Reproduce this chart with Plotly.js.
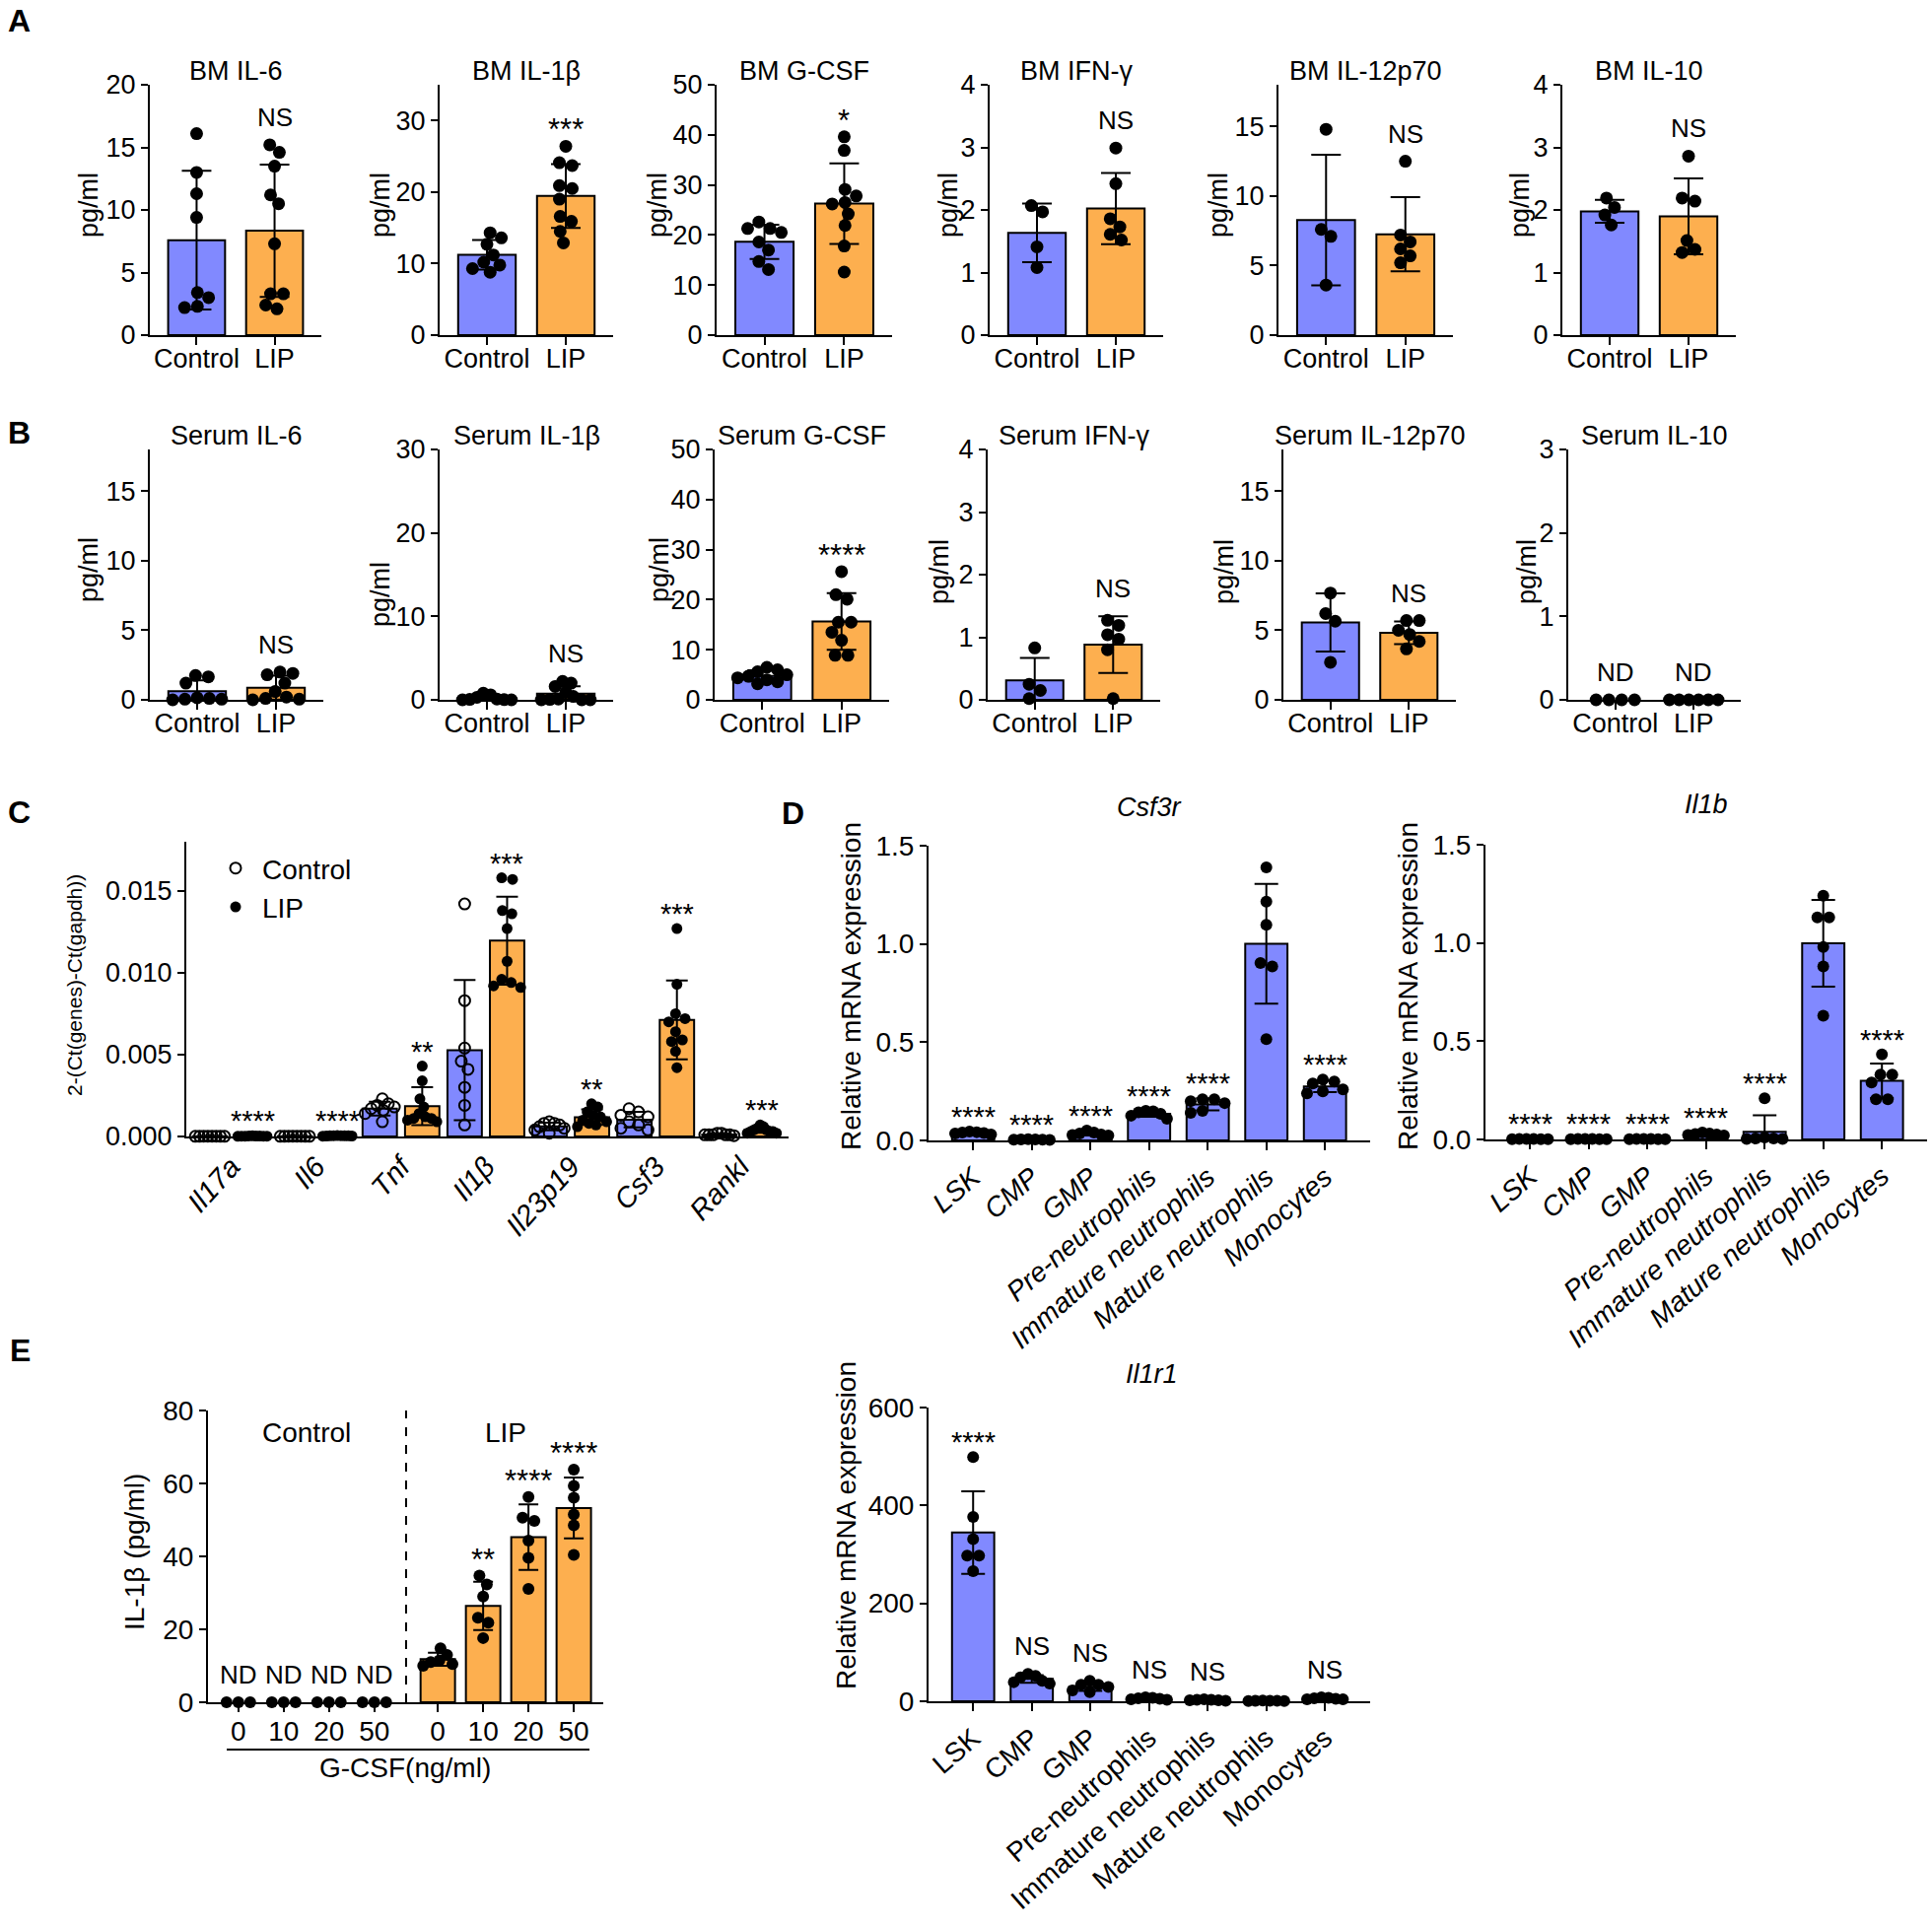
<!DOCTYPE html>
<html>
<head>
<meta charset="utf-8">
<script src="https://cdn.plot.ly/plotly-3.0.1.min.js"></script>
<style>html,body{margin:0;padding:0;background:#fff;}</style>
</head>
<body>
<div id="chart" style="width:1960px;height:1954px;"></div>
<script>
// ===================== DATA =====================
const groupLabels = ['Control', 'LIP'];

// ---- Panel A (bone marrow, pg/ml) ----
const titlesA = ['BM IL-6', 'BM IL-1β', 'BM G-CSF', 'BM IFN-γ', 'BM IL-12p70', 'BM IL-10'];
const bmIl6Control = [16.1, 13.0, 11.3, 9.4, 3.4, 3.0, 2.3, 2.2];
const bmIl6Lip = [15.2, 14.6, 13.5, 11.2, 10.5, 7.3, 3.3, 3.3, 2.4, 2.1];
const bmIl1bControl = [14.3, 13.6, 12.7, 11.2, 10.2, 9.8, 9.3, 8.8];
const bmIl1bLip = [26.4, 24.1, 23.7, 20.9, 20.5, 19.0, 16.6, 15.9, 14.5, 12.9];
const bmGcsfControl = [22.6, 21.3, 21.3, 20.5, 18.6, 17.0, 14.7, 13.1];
const bmGcsfLip = [39.6, 36.9, 29.1, 27.8, 26.5, 26.2, 24.2, 21.9, 17.8, 12.6];
const bmIfngControl = [2.07, 1.97, 1.41, 1.08];
const bmIfngLip = [2.99, 2.42, 1.86, 1.73, 1.61, 1.52];
const bmIl12Control = [14.8, 7.6, 7.1, 3.6];
const bmIl12Lip = [12.5, 7.2, 6.7, 6.2, 5.7, 5.2];
const bmIl10Control = [2.19, 2.04, 1.92, 1.76];
const bmIl10Lip = [2.86, 2.19, 2.14, 1.51, 1.37, 1.32];
const sigAControl = ['', '', '', '', '', ''];
const sigALip = ['NS', '***', '*', 'NS', 'NS', 'NS'];

// ---- Panel B (serum, pg/ml) ----
const titlesB = ['Serum IL-6', 'Serum IL-1β', 'Serum G-CSF', 'Serum IFN-γ', 'Serum IL-12p70', 'Serum IL-10'];
const seIl6Control = [1.75, 1.65, 1.2, 0.15, 0.1, 0.05, 0.05, 0.0];
const seIl6Lip = [2.0, 1.9, 1.8, 1.2, 0.6, 0.2, 0.1, 0.05, 0.0];
const seIl1bControl = [0.8, 0.6, 0.3, 0.1, 0.05, 0.02, 0.0, 0.0];
const seIl1bLip = [2.2, 2.0, 1.6, 0.9, 0.4, 0.1, 0.05, 0.0, 0.0, 0.0];
const seGcsfControl = [6.5, 6.0, 5.6, 5.0, 4.7, 4.4, 4.0, 3.6, 3.2];
const seGcsfLip = [25.6, 21.0, 20.1, 15.5, 15.5, 13.5, 11.9, 8.9, 8.9];
const seIfngControl = [0.83, 0.25, 0.15, 0.02];
const seIfngLip = [1.27, 1.19, 1.04, 0.97, 0.80, 0.02];
const seIl12Control = [7.68, 6.2, 5.65, 2.7];
const seIl12Lip = [5.7, 5.7, 5.0, 4.7, 4.2, 3.66];
const seIl10Control = [0, 0, 0, 0];
const seIl10Lip = [0, 0, 0, 0, 0, 0];
const sigBControl = ['', '', '', '', '', 'ND'];
const sigBLip = ['NS', 'NS', '****', 'NS', 'NS', 'ND'];

// ---- Panel C (2^-(Ct(gene)-Ct(gapdh))) ----
const genesC = ['Il17a', 'Il6', 'Tnf', 'Il1β', 'Il23p19', 'Csf3', 'Rankl'];
const cControlValues = [
  [0.00002, 0.00001, 0.00002, 0.00001, 0.00002, 0.00001, 0.00002, 0.00001],
  [0.00002, 0.00001, 0.00002, 0.00001, 0.00002, 0.00001, 0.00002, 0.00001],
  [0.0023, 0.0020, 0.0019, 0.0018, 0.0017, 0.0016, 0.0014, 0.0009],
  [0.0142, 0.0083, 0.0054, 0.0046, 0.0041, 0.0030, 0.0019, 0.0007],
  [0.0009, 0.0008, 0.0008, 0.0007, 0.0006, 0.0005, 0.0004, 0.0002],
  [0.0017, 0.0015, 0.0013, 0.0012, 0.0009, 0.0007, 0.0005, 0.0004],
  [0.0002, 0.0002, 0.0001, 0.0001, 0.0001, 0.0001, 0.0001, 0.00005]
];
const cLipValues = [
  [0.00004, 0.00003, 0.00003, 0.00003, 0.00002, 0.00002, 0.00002, 0.00002, 0.00001],
  [0.00006, 0.00005, 0.00005, 0.00004, 0.00004, 0.00004, 0.00003, 0.00003, 0.00002],
  [0.0043, 0.0034, 0.0023, 0.0018, 0.0014, 0.0012, 0.0011, 0.0011, 0.0010, 0.0009],
  [0.0158, 0.0157, 0.0138, 0.0136, 0.0127, 0.0107, 0.0096, 0.0094, 0.0092, 0.0091],
  [0.0020, 0.0018, 0.0015, 0.0013, 0.0012, 0.0010, 0.0009, 0.0008, 0.0007, 0.0006],
  [0.0127, 0.0093, 0.0075, 0.0072, 0.0070, 0.0064, 0.0059, 0.0058, 0.0052, 0.0042],
  [0.0007, 0.0006, 0.0005, 0.0004, 0.0004, 0.0003, 0.0003, 0.0003, 0.0002, 0.0002]
];
const sigC = ['****', '****', '**', '***', '**', '***', '***'];

// ---- Panel D (relative mRNA expression by cell type) ----
const cellTypes = ['LSK', 'CMP', 'GMP', 'Pre-neutrophils', 'Immature neutrophils', 'Mature neutrophils', 'Monocytes'];
const csf3rValues = [
  [0.045, 0.042, 0.040, 0.038, 0.035, 0.030],
  [0.006, 0.005, 0.005, 0.004, 0.004, 0.003],
  [0.050, 0.040, 0.035, 0.030, 0.028, 0.025],
  [0.150, 0.148, 0.143, 0.135, 0.126, 0.110],
  [0.210, 0.210, 0.200, 0.190, 0.150, 0.140],
  [1.390, 1.215, 1.097, 0.903, 0.886, 0.515],
  [0.310, 0.300, 0.290, 0.260, 0.250, 0.240]
];
const il1bValues = [
  [0.003, 0.002, 0.002, 0.001, 0.001, 0.001],
  [0.003, 0.002, 0.002, 0.001, 0.001, 0.001],
  [0.003, 0.002, 0.002, 0.001, 0.001, 0.001],
  [0.035, 0.030, 0.028, 0.025, 0.022, 0.020],
  [0.210, 0.010, 0.005, 0.005, 0.003, 0.002],
  [1.240, 1.130, 1.130, 0.980, 0.880, 0.630],
  [0.433, 0.330, 0.330, 0.290, 0.204, 0.204]
];
const il1r1Values = [
  [498.7, 376.5, 331.0, 297.7, 297.7, 266.0],
  [55.7, 52.0, 49.0, 42.0, 39.0, 36.0],
  [42.0, 33.6, 33.6, 29.0, 22.0, 18.8],
  [8, 7, 6, 5, 4, 3],
  [4, 3, 3, 2, 2, 1],
  [1.5, 1, 1, 0.8, 0.5, 0.5],
  [8, 7, 6, 5, 4, 4]
];
const csf3rSig = ['****', '****', '****', '****', '****', '', '****'];
const il1bSig = ['****', '****', '****', '****', '****', '', '****'];
const il1r1Sig = ['****', 'NS', 'NS', 'NS', 'NS', '', 'NS'];

// ---- Panel E (IL-1β pg/ml vs G-CSF dose) ----
const gcsfDoses = ['0', '10', '20', '50'];
const eControlValues = [[0, 0, 0], [0, 0, 0], [0, 0, 0], [0, 0, 0]];
const eLipValues = [
  [14.8, 13.0, 11.5, 11.0, 10.5, 10.0],
  [34.7, 32.3, 29.0, 23.2, 21.8, 17.6],
  [56.3, 50.6, 49.7, 44.3, 39.6, 31.1],
  [63.8, 59.3, 56.1, 51.5, 48.5, 40.4]
];
const sigEControl = ['ND', 'ND', 'ND', 'ND'];
const sigELip = ['', '**', '****', '****'];

// ===================== STYLE / LAYOUT =====================
const W = 1960, H = 1954;
const FONT = 'Liberation Sans, Arial, Helvetica, sans-serif';
const BLUE = '#8189FF', ORANGE = '#FDAF4F';

const traces = [], annotations = [], shapes = [];
const layout = {
  width: W, height: H, margin: {l: 0, r: 0, t: 0, b: 0},
  paper_bgcolor: '#ffffff', plot_bgcolor: 'rgba(0,0,0,0)',
  font: {family: FONT, color: '#000', size: 27},
  showlegend: true,
  legend: {x: 212 / W, y: 1 - 856 / H, xanchor: 'left', yanchor: 'top',
           font: {size: 28, family: FONT}, bgcolor: 'rgba(0,0,0,0)', borderwidth: 0,
           itemwidth: 44, tracegroupgap: 0},
  annotations, shapes
};

const mean = a => a.reduce((s, v) => s + v, 0) / a.length;
const sd = a => { const m = mean(a); return a.length < 2 ? 0 : Math.sqrt(a.reduce((s, v) => s + (v - m) * (v - m), 0) / (a.length - 1)); };

// beeswarm-style horizontal spreading of dots, returned in pixels
function swarm(vals, ppu, d, maxSpan) {
  const minD = d * 0.92;
  const order = vals.map((v, i) => i).sort((a, b) => vals[b] - vals[a]);
  const placed = [], off = new Array(vals.length).fill(0);
  for (const i of order) {
    const y = vals[i] * ppu;
    const near = placed.filter(p => Math.abs(p.y - y) < minD);
    const bal = near.reduce((s, p) => s + Math.sign(p.x), 0);
    let best = null;
    for (let k = 0; k < 400 && best === null; k++) {
      const c = k * d / 8;
      const cands = k === 0 ? [0] : (bal <= 0 ? [c, -c] : [-c, c]);
      for (const x of cands) {
        if (near.every(p => Math.hypot(p.x - x, p.y - y) >= minD)) { best = x; break; }
      }
    }
    placed.push({x: best, y}); off[i] = best;
  }
  // centre & fit each vertically connected cluster
  let cluster = [];
  const flush = () => {
    if (!cluster.length) return;
    const xs = cluster.map(i => off[i]);
    const ctr = (Math.min(...xs) + Math.max(...xs)) / 2;
    cluster.forEach(i => off[i] -= ctr);
    const half = Math.max(...cluster.map(i => Math.abs(off[i])));
    if (half > maxSpan / 2) cluster.forEach(i => off[i] *= (maxSpan / 2) / half);
    cluster = [];
  };
  order.forEach((i, k) => {
    if (k > 0 && (vals[order[k - 1]] - vals[i]) * ppu >= minD) flush();
    cluster.push(i);
  });
  flush();
  return off;
}

function paperAnn(text, xpx, ypx, size, extra) {
  annotations.push(Object.assign({xref: 'paper', yref: 'paper', x: xpx / W, y: 1 - ypx / H, text,
    showarrow: false, xanchor: 'center', yanchor: 'middle', font: {size, family: FONT, color: '#000'}}, extra || {}));
}

let axN = 0;
function addPanel(p) {
  axN++;
  const xa = axN === 1 ? 'x' : 'x' + axN, ya = axN === 1 ? 'y' : 'y' + axN;
  const xKey = axN === 1 ? 'xaxis' : 'xaxis' + axN, yKey = axN === 1 ? 'yaxis' : 'yaxis' + axN;
  layout[xKey] = {
    domain: [p.x0 / W, p.x1 / W], anchor: ya, range: p.xRange, type: 'linear',
    showgrid: false, zeroline: false, showline: true, linecolor: '#000', linewidth: 2,
    ticks: p.xTicks === false ? '' : 'outside', ticklen: 8, tickwidth: 2, tickcolor: '#000',
    tickmode: 'array', tickvals: p.tickvals, ticktext: p.ticktext, tickangle: p.tickangle || 0,
    ticklabelstandoff: p.xStandoff || 0,
    tickfont: {size: p.xTickSize || 27, family: FONT, color: '#000'}, fixedrange: true
  };
  const yt = [];
  for (let v = 0; v <= p.yMax + 1e-9; v += p.yStep) yt.push(+v.toFixed(6));
  layout[yKey] = {
    domain: [1 - p.yBot / H, 1 - p.yTop / H], anchor: xa, range: [0, p.yMax],
    showgrid: false, zeroline: false, showline: true, linecolor: '#000', linewidth: 2,
    ticks: 'outside', ticklen: 7, tickwidth: 2, tickcolor: '#000',
    tickmode: 'array', tickvals: yt, tickformat: p.yFormat || '',
    tickfont: {size: p.yTickSize || 27, family: FONT, color: '#000'}, fixedrange: true
  };
  const ppuY = (p.yBot - p.yTop) / p.yMax;
  const ppuX = (p.x1 - p.x0) / (p.xRange[1] - p.xRange[0]);
  p.groups.forEach(g => {
    const nd = g.sig === 'ND';
    const m = mean(g.vals), s = sd(g.vals);
    if (!nd) {
      traces.push({type: 'bar', x: [g.pos], y: [m], width: [p.barW], xaxis: xa, yaxis: ya,
        marker: {color: g.color, line: {color: '#000', width: 2}},
        error_y: {type: 'data', array: [s], visible: true, color: '#000', thickness: 2, width: p.cap},
        showlegend: false, hoverinfo: 'skip'});
    }
    const off = swarm(g.vals, ppuY, p.ms, p.barW * ppuX * 0.85);
    traces.push({type: 'scatter', mode: 'markers', xaxis: xa, yaxis: ya, cliponaxis: false,
      x: g.vals.map((v, i) => g.pos + off[i] / ppuX), y: g.vals,
      marker: {symbol: g.open ? 'circle-open' : 'circle', size: p.ms, color: '#000',
               line: {width: g.open ? 2 : 0, color: '#000'}},
      showlegend: !!g.legend, name: g.legend || '', hoverinfo: 'skip'});
    if (g.sig) {
      const top = nd ? Math.max(...g.vals) : Math.max(Math.max(...g.vals), m + s);
      const stars = /^\*+$/.test(g.sig);
      annotations.push({xref: xa, yref: ya, x: g.pos, y: top, text: g.sig, showarrow: false,
        xanchor: 'center', yanchor: 'bottom', yshift: stars ? -3 : 11,
        font: {size: stars ? (p.starSize || 31) : (p.sigSize || 26), family: FONT, color: '#000'}});
    }
  });
  return {xa, ya};
}

// ---------- Rows A and B ----------
const rowA = [
  {c: bmIl6Control, l: bmIl6Lip, x0: 152, x1: 326, yMax: 20, yStep: 5, yt: [90, 208]},
  {c: bmIl1bControl, l: bmIl1bLip, x0: 446, x1: 622, yMax: 35, yStep: 10, yt: [386, 208]},
  {c: bmGcsfControl, l: bmGcsfLip, x0: 727, x1: 905, yMax: 50, yStep: 10, yt: [667, 208]},
  {c: bmIfngControl, l: bmIfngLip, x0: 1004, x1: 1180, yMax: 4, yStep: 1, yt: [962, 208]},
  {c: bmIl12Control, l: bmIl12Lip, x0: 1297, x1: 1474, yMax: 18, yStep: 5, yt: [1236, 208]},
  {c: bmIl10Control, l: bmIl10Lip, x0: 1585, x1: 1761, yMax: 4, yStep: 1, yt: [1542, 208]}
];
const rowB = [
  {c: seIl6Control, l: seIl6Lip, x0: 152, x1: 328, yMax: 18, yStep: 5, yt: [90, 578]},
  {c: seIl1bControl, l: seIl1bLip, x0: 446, x1: 622, yMax: 30, yStep: 10, yt: [386, 603]},
  {c: seGcsfControl, l: seGcsfLip, x0: 725, x1: 902, yMax: 50, yStep: 10, yt: [669, 578]},
  {c: seIfngControl, l: seIfngLip, x0: 1002, x1: 1177, yMax: 4, yStep: 1, yt: [953, 580]},
  {c: seIl12Control, l: seIl12Lip, x0: 1302, x1: 1477, yMax: 18, yStep: 5, yt: [1242, 580]},
  {c: seIl10Control, l: seIl10Lip, x0: 1591, x1: 1766, yMax: 3, yStep: 1, yt: [1549, 580]}
];
function buildRow(row, titles, sigC_, sigL_, yTop, yBot, titleY) {
  row.forEach((r, k) => {
    addPanel({x0: r.x0, x1: r.x1, yTop, yBot, yMax: r.yMax, yStep: r.yStep,
      xRange: [-0.6, 1.6], barW: 0.73, ms: 13, cap: 15, xStandoff: -9,
      tickvals: [0, 1], ticktext: groupLabels,
      groups: [
        {pos: 0, vals: r.c, color: BLUE, sig: sigC_[k]},
        {pos: 1, vals: r.l, color: ORANGE, sig: sigL_[k]}
      ]});
    paperAnn(titles[k], (r.x0 + r.x1) / 2, titleY, 27);
    paperAnn('pg/ml', r.yt[0], r.yt[1], 27, {textangle: -90});
  });
}
buildRow(rowA, titlesA, sigAControl, sigALip, 86, 340, 72);
buildRow(rowB, titlesB, sigBControl, sigBLip, 456, 710, 442);

// ---------- Panel C ----------
{
  const groups = [];
  genesC.forEach((g, k) => {
    groups.push({pos: 2 * k, vals: cControlValues[k], color: BLUE, open: true, legend: k === 0 ? 'Control' : ''});
    groups.push({pos: 2 * k + 1, vals: cLipValues[k], color: ORANGE, sig: sigC[k], legend: k === 0 ? 'LIP' : ''});
  });
  addPanel({x0: 189, x1: 800, yTop: 854, yBot: 1153, yMax: 0.018, yStep: 0.005, yFormat: '.3f',
    xRange: [-0.557, 13.63], barW: 0.81, ms: 11, cap: 11, xTicks: false, starSize: 29,
    tickvals: genesC.map((g, k) => 2 * k + 0.5), ticktext: genesC.map(g => '<i>' + g + '</i>'),
    tickangle: -48, xTickSize: 29, groups});
  paperAnn('2-(Ct(genes)-Ct(gapdh))', 75, 1000, 21, {textangle: -90});
}

// ---------- Panel D ----------
function cellPanel(values, sig, x0, x1, yTop, yBot, yMax, yStep, yFormat, italic) {
  return addPanel({x0, x1, yTop, yBot, yMax, yStep, yFormat,
    xRange: [-0.76, 6.77], barW: 0.72, ms: 12, cap: 12, xTickSize: 28, yTickSize: 28, starSize: 29,
    tickvals: cellTypes.map((c, k) => k),
    ticktext: cellTypes.map(c => italic ? '<i>' + c + '</i>' : c), tickangle: -41,
    groups: values.map((v, k) => ({pos: k, vals: v, color: BLUE, sig: sig[k]}))});
}
cellPanel(csf3rValues, csf3rSig, 942, 1390, 858, 1157, 1.5, 0.5, '.1f', true);
paperAnn('<i>Csf3r</i>', 1166, 819, 27);
paperAnn('Relative mRNA expression', 863, 1001, 28, {textangle: -90});
cellPanel(il1bValues, il1bSig, 1507, 1955, 857, 1156, 1.5, 0.5, '.1f', true);
paperAnn('<i>Il1b</i>', 1731, 816, 27);
paperAnn('Relative mRNA expression', 1428, 1001, 28, {textangle: -90});
cellPanel(il1r1Values, il1r1Sig, 942, 1390, 1428, 1726, 600, 200, '', false);
paperAnn('<i>Il1r1</i>', 1168, 1394, 27);
paperAnn('Relative mRNA expression', 858, 1548, 28, {textangle: -90});

// ---------- Panel E ----------
{
  const gap = 1.4;
  const ctrlPos = gcsfDoses.map((d, k) => k);
  const lipPos = gcsfDoses.map((d, k) => gcsfDoses.length - 1 + gap + k);
  const groups = [];
  gcsfDoses.forEach((d, k) => groups.push({pos: ctrlPos[k], vals: eControlValues[k], color: BLUE, sig: sigEControl[k]}));
  gcsfDoses.forEach((d, k) => groups.push({pos: lipPos[k], vals: eLipValues[k], color: ORANGE, sig: sigELip[k]}));
  const ax = addPanel({x0: 211, x1: 612, yTop: 1431, yBot: 1727, yMax: 80, yStep: 20,
    xRange: [-0.67, 8.05], barW: 0.76, ms: 12, cap: 10, xTickSize: 28, yTickSize: 28, xStandoff: -5,
    tickvals: ctrlPos.concat(lipPos), ticktext: gcsfDoses.concat(gcsfDoses), groups});
  const sep = (ctrlPos[ctrlPos.length - 1] + lipPos[0]) / 2;
  shapes.push({type: 'line', xref: ax.xa, yref: ax.ya, x0: sep, x1: sep, y0: 0, y1: 80,
    line: {color: '#000', width: 2, dash: 'dash'}});
  annotations.push({xref: ax.xa, yref: ax.ya, x: mean(ctrlPos), y: 74, text: 'Control', showarrow: false,
    font: {size: 28, family: FONT, color: '#000'}});
  annotations.push({xref: ax.xa, yref: ax.ya, x: mean(lipPos), y: 74, text: 'LIP', showarrow: false,
    font: {size: 28, family: FONT, color: '#000'}});
  shapes.push({type: 'line', xref: 'paper', yref: 'paper', x0: 230 / W, x1: 598 / W, y0: 1 - 1775 / H, y1: 1 - 1775 / H,
    line: {color: '#000', width: 2}});
  paperAnn('G-CSF(ng/ml)', 411, 1793, 28);
  paperAnn('IL-1β (pg/ml)', 136, 1575, 28, {textangle: -90});
}

// ---------- panel letters ----------
[['A', 19, 21], ['B', 19, 439], ['C', 19, 824], ['D', 804, 825], ['E', 20, 1370]].forEach(l =>
  paperAnn('<b>' + l[0] + '</b>', l[1], l[2], 32));

Plotly.newPlot('chart', traces, layout, {staticPlot: true, displayModeBar: false});
</script>
</body>
</html>
